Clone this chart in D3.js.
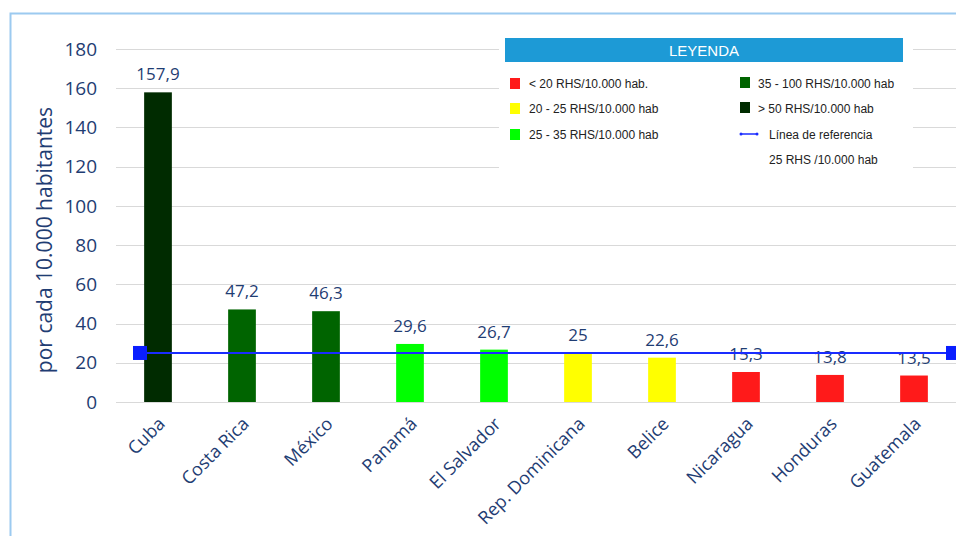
<!DOCTYPE html>
<html>
  <head>
    <meta charset="utf-8">
    <style>
      body { margin: 0; background: #fff; }
      svg { display: block; font-family: "Open Sans", sans-serif; }
    </style>
    <script src="https://cdn.jsdelivr.net/npm/d3@7"></script>
  </head>
  <body>
    <svg id="chart" width="956" height="536"></svg>
    <script>
      var countries = ['Cuba', 'Costa Rica', 'México', 'Panamá', 'El Salvador', 'Rep. Dominicana', 'Belice', 'Nicaragua', 'Honduras', 'Guatemala'];
      var values = [157.9, 47.2, 46.3, 29.6, 26.7, 25, 22.6, 15.3, 13.8, 13.5];
      var barColors = ['#002b00', '#006400', '#006400', '#00ff00', '#00ff00', '#ffff00', '#ffff00', '#ff1a1a', '#ff1a1a', '#ff1a1a'];
      var yTicks = [0, 20, 40, 60, 80, 100, 120, 140, 160, 180];
      var refValue = 25;
      var legendLeft = [['#ff1a1a', '< 20 RHS/10.000 hab.'], ['#ffff00', '20 - 25 RHS/10.000 hab'], ['#00ff00', '25 - 35 RHS/10.000 hab']];
      var legendRight = [['#006400', '35 - 100 RHS/10.000 hab'], ['#002b00', '> 50 RHS/10.000 hab']];

      var svg = d3.select('#chart');
      var textCol = '#1f3d73';

      // frame
      svg.append('path').attr('d', 'M10.5,536 V13.5 H956').attr('fill', 'none').attr('stroke', '#9ccaf0').attr('stroke-width', 2);

      var x = d3.scaleBand().domain(countries).range([116, 956]).paddingInner(0.67).paddingOuter(0.335);
      var y = d3.scaleLinear().domain([0, 180]).range([402, 49]);

      // grid
      svg.append('g').selectAll('line').data(yTicks).join('line')
        .attr('x1', 116).attr('x2', 956)
        .attr('y1', function(d) { return Math.round(y(d)) + 0.5; })
        .attr('y2', function(d) { return Math.round(y(d)) + 0.5; })
        .attr('stroke', '#d9d9d9').attr('stroke-width', 1.2);

      // y tick labels
      svg.append('g').selectAll('text').data(yTicks).join('text')
        .attr('x', 97).attr('y', function(d) { return y(d); }).attr('dy', '0.35em')
        .attr('text-anchor', 'end').attr('font-size', 19).attr('fill', textCol)
        .text(function(d) { return d; });

      svg.append('text').attr('transform', 'translate(52,240) rotate(-90)')
        .attr('text-anchor', 'middle').attr('font-size', 21).attr('fill', textCol)
        .text('por cada 10.000 habitantes');

      // bars
      svg.append('g').selectAll('rect').data(values).join('rect')
        .attr('x', function(d, i) { return x(countries[i]); })
        .attr('width', x.bandwidth())
        .attr('y', function(d) { return y(d); })
        .attr('height', function(d) { return y(0) - y(d); })
        .attr('fill', function(d, i) { return barColors[i]; });

      // value labels
      svg.append('g').selectAll('text').data(values).join('text')
        .attr('x', function(d, i) { return x(countries[i]) + x.bandwidth() / 2; })
        .attr('y', function(d) { return y(d) - 12; })
        .attr('text-anchor', 'middle').attr('font-size', 17).attr('fill', textCol)
        .text(function(d) { return String(d).replace('.', ','); });

      // x labels
      svg.append('g').selectAll('text').data(countries).join('text')
        .attr('transform', function(d) { return 'translate(' + (x(d) + x.bandwidth() / 2 + 8) + ',425) rotate(-45)'; })
        .attr('text-anchor', 'end').attr('font-size', 18).attr('fill', textCol)
        .text(function(d) { return d; });

      // reference line
      var yr = y(refValue);
      svg.append('line').attr('x1', 140).attr('x2', 956).attr('y1', yr).attr('y2', yr)
        .attr('stroke', '#1a2cff').attr('stroke-width', 2);
      svg.append('g').selectAll('rect').data([140, 953]).join('rect')
        .attr('x', function(d) { return d - 7; }).attr('y', yr - 7)
        .attr('width', 14).attr('height', 14).attr('fill', '#0a1eff');

      // legend
      var lg = svg.append('g').attr('font-family', '"Liberation Sans", Arial, sans-serif');
      lg.append('rect').attr('x', 499).attr('y', 30).attr('width', 414).attr('height', 142).attr('fill', '#fff');
      lg.append('rect').attr('x', 505).attr('y', 38).attr('width', 398).attr('height', 24).attr('fill', '#1d9ad6');
      lg.append('text').attr('x', 704).attr('y', 56).attr('text-anchor', 'middle').attr('font-size', 15)
        .attr('fill', '#fff').text('LEYENDA');

      var rowY = [83, 108, 134, 159];
      legendLeft.forEach(function(it, i) {
        lg.append('rect').attr('x', 510).attr('y', rowY[i] - 5).attr('width', 10).attr('height', 11).attr('fill', it[0]);
        lg.append('text').attr('x', 529).attr('y', rowY[i] + 5).attr('font-size', 12).attr('fill', '#222').text(it[1]);
      });
      legendRight.forEach(function(it, i) {
        lg.append('rect').attr('x', 740).attr('y', rowY[i] - 6).attr('width', 10).attr('height', 11).attr('fill', it[0]);
        lg.append('text').attr('x', 758).attr('y', rowY[i] + 5).attr('font-size', 12).attr('fill', '#222').text(it[1]);
      });
      lg.append('line').attr('x1', 740).attr('x2', 758).attr('y1', rowY[2]).attr('y2', rowY[2])
        .attr('stroke', '#1a2cff').attr('stroke-width', 1.5);
      lg.append('circle').attr('cx', 741).attr('cy', rowY[2]).attr('r', 1.5).attr('fill', '#1a2cff');
      lg.append('circle').attr('cx', 757).attr('cy', rowY[2]).attr('r', 1.5).attr('fill', '#1a2cff');
      lg.append('text').attr('x', 769).attr('y', rowY[2] + 5).attr('font-size', 12).attr('fill', '#222').text('Línea de referencia');
      lg.append('text').attr('x', 769).attr('y', rowY[3] + 5).attr('font-size', 12).attr('fill', '#222').text('25 RHS /10.000 hab');
    </script>
  </body>
</html>
